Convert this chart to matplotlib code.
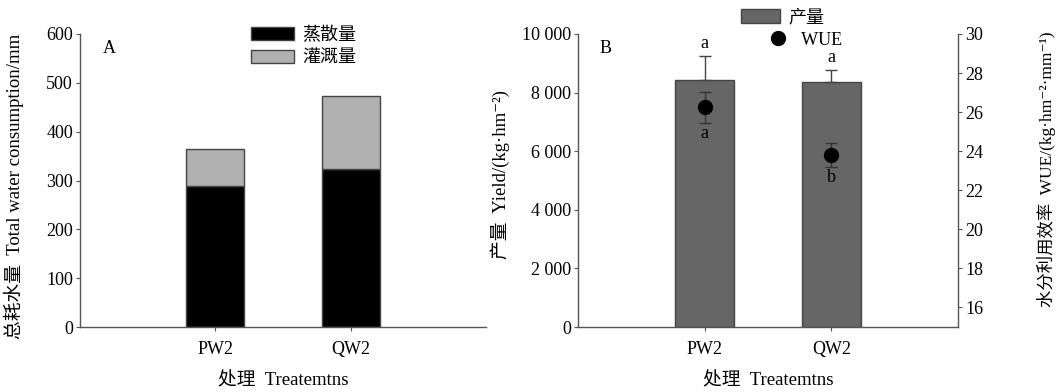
import numpy as np
import matplotlib.pyplot as plt
from matplotlib.lines import Line2D
from matplotlib.patches import Patch
from matplotlib.legend_handler import HandlerBase

plt.rcParams['font.family'] = ['Liberation Serif', 'Noto Sans CJK SC', 'DejaVu Serif']
plt.rcParams['font.size'] = 13

treatments = ['PW2', 'QW2']

# A: water consumption (mm)
et = [289, 324]          # 蒸散量
irrigation = [75, 149]   # 灌溉量

# B: yield and WUE
yield_mean = [8430, 8360]
yield_err = [820, 410]
yield_sig = ['a', 'a']
wue_mean = [26.25, 23.8]
wue_err = [0.8, 0.6]
wue_sig = ['a', 'b']

spine_c = '#555555'
x = np.array([1, 2])


class RightDot(HandlerBase):
    # single marker drawn near the right end of the legend handle
    def create_artists(self, legend, orig, xdescent, ydescent, width, height,
                       fontsize, trans):
        dot = Line2D([-xdescent + width * 0.95], [-ydescent + height / 2],
                     marker='o', color='black', ls='none', ms=10,
                     transform=trans)
        return [dot]


fig = plt.figure(figsize=(10.59, 3.92), dpi=100)
axA = fig.add_axes([80 / 1059, 1 - 327 / 392, 406 / 1059, 293 / 392])
axB = fig.add_axes([578 / 1059, 1 - 327 / 392, 380 / 1059, 293 / 392])
axW = axB.twinx()

def style(ax, right=False):
    for s in ['top', 'right', 'left', 'bottom']:
        ax.spines[s].set_visible(False)
    ax.spines['bottom'].set_visible(True)
    ax.spines['bottom'].set_color(spine_c)
    side = 'right' if right else 'left'
    ax.spines[side].set_visible(True)
    ax.spines[side].set_color(spine_c)
    ax.spines[side].set_linewidth(1.0)
    ax.spines['bottom'].set_linewidth(1.0)
    ax.tick_params(direction='out', length=3, color=spine_c, pad=2)

# panel A: stacked bars
axA.bar(x, et, width=0.43, color='black', edgecolor='#444444', linewidth=1)
axA.bar(x, irrigation, width=0.43, bottom=et, color='#b0b0b0',
        edgecolor='#444444', linewidth=1)
axA.set_xlim(0, 3)
axA.set_ylim(0, 600)
axA.set_yticks(range(0, 601, 100))
axA.set_xticks(x)
axA.set_xticklabels(treatments)
style(axA)
axA.tick_params(axis='x', pad=7)
axA.text(0.17, 570, 'A', fontsize=13, va='center')
axA.set_xlabel('处理  Treatemtns', labelpad=10, fontsize=13.5)
axA.set_ylabel('总耗水量  Total water consumption/mm', fontsize=13.5)
axA.yaxis.set_label_coords(-0.138, 0.48)
axA.legend(handles=[Patch(facecolor='black', edgecolor='#444444', label='蒸散量'),
                    Patch(facecolor='#b0b0b0', edgecolor='#444444', label='灌溉量')],
           loc='upper left', bbox_to_anchor=(0.38, 1.08), frameon=False,
           handlelength=2.4, handleheight=0.75, handletextpad=0.45,
           labelspacing=0.3, fontsize=13)

# panel B: yield bars with WUE points on a second axis
axB.bar(x, yield_mean, width=0.47, color='#666666', edgecolor='#444444',
        linewidth=1, zorder=2)
axB.errorbar(x, yield_mean, yerr=[[0, 0], yield_err], fmt='none',
             ecolor='#444444', elinewidth=1, capsize=4, zorder=3)
for xi, m, e, s in zip(x, yield_mean, yield_err, yield_sig):
    axB.text(xi, m + e + 150, s, ha='center', va='bottom', fontsize=13)
axB.set_xlim(0, 3)
axB.set_ylim(0, 10000)
axB.set_yticks(range(0, 10001, 2000))
axB.set_yticklabels(['0', '2 000', '4 000', '6 000', '8 000', '10 000'])
axB.set_xticks(x)
axB.set_xticklabels(treatments)
style(axB)
axB.tick_params(axis='x', pad=7)
axB.text(0.17, 9500, 'B', fontsize=13, va='center')
axB.set_xlabel('处理  Treatemtns', labelpad=10, fontsize=13.5)
axB.set_ylabel('产量  Yield/(kg·hm⁻²)', fontsize=13.5)
axB.yaxis.set_label_coords(-0.179, 0.52)

axW.errorbar(x, wue_mean, yerr=wue_err, fmt='o', color='black', ms=10,
             ecolor='#333333', elinewidth=1, capsize=4, zorder=4)
for xi, m, e, s in zip(x, wue_mean, wue_err, wue_sig):
    axW.text(xi, m - e - 0.1, s, ha='center', va='top', fontsize=13)
axW.set_ylim(15, 30)
axW.set_yticks(range(16, 31, 2))
style(axW, right=True)
axW.spines['bottom'].set_visible(False)
axW.set_ylabel('水分利用效率  WUE/(kg·hm⁻²·mm⁻¹)', fontsize=12.5)
axW.yaxis.set_label_coords(1.208, 0.54)

wue_handle = Line2D([], [], marker='o', color='black', ls='none', ms=10,
                    label='   WUE')
axB.legend(handles=[Patch(facecolor='#666666', edgecolor='#444444', label='产量'),
                    wue_handle],
           handler_map={wue_handle: RightDot()},
           loc='upper left', bbox_to_anchor=(0.385, 1.14), frameon=False,
           handlelength=2.2, handleheight=0.75, handletextpad=0.45,
           labelspacing=0.3, fontsize=13)

fig.savefig('out.png', dpi=100)
